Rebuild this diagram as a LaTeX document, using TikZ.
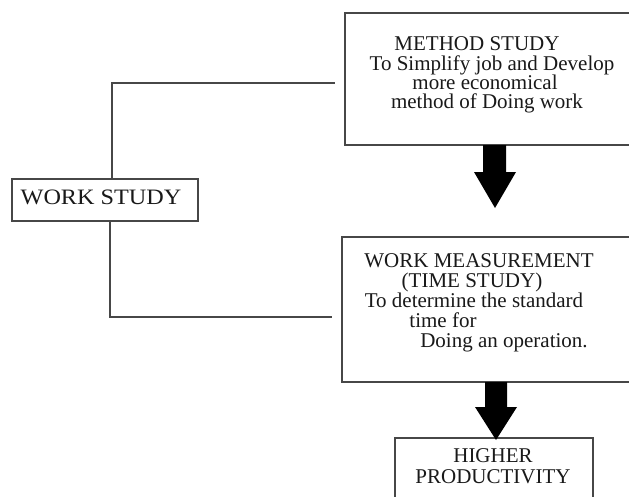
\documentclass[tikz,border=0pt]{standalone}
\usepackage{graphicx}
\usepackage{fontspec}
\setmainfont{Liberation Serif}
\newcommand{\hscl}[2]{\scalebox{#1}[1]{#2}}
\tikzset{
  boxline/.style={draw=black!72, line width=1.3pt, fill=white, rectangle, inner sep=0pt},
  conn/.style={draw=black!72, line width=1.3pt},
  txt/.style={anchor=base, inner sep=0pt, text=black!90, font=\fontsize{21}{21}\selectfont},
  blockarrow/.style={fill=black}
}
\begin{document}
\begin{tikzpicture}[x=1pt,y=-1pt]
\useasboundingbox (0,0) rectangle (629,496);
% boxes
\node[boxline, minimum width=300pt, minimum height=132pt] (ms) at (495,79) {};
\node[boxline, minimum width=300pt, minimum height=145pt] (wm) at (492,309.5) {};
\node[boxline, minimum width=198pt, minimum height=80pt] (hp) at (494,478) {};
\node[boxline, minimum width=186pt, minimum height=42pt] (ws) at (105,200) {};
% texts
\node[txt] (t1) at (477,50) {METHOD STUDY};
\node[txt] (t2) at (492,70) {To Simplify job and Develop};
\node[txt] (t3) at (485,89) {more economical};
\node[txt] (t4) at (487,108) {method of Doing work};
\node[txt] (t5) at (479,267) {WORK MEASUREMENT};
\node[txt] (t6) at (472,287) {(TIME STUDY)};
\node[txt] (t7) at (474,307) {To determine the standard};
\node[txt] (t8) at (443,327) {time for};
\node[txt] (t9) at (504,347) {Doing an operation.};
\node[txt] (t10) at (493,462) {HIGHER};
\node[txt] (t11) at (493,483) {PRODUCTIVITY};
\node[txt, font=\fontsize{22}{22}\selectfont] (t12) at (101,204) {\hscl{1.1}{WORK STUDY}};
% connectors
\coordinate (c1) at (335,83);
\coordinate (c2) at (332,317);
\draw[conn] ([xshift=7pt]ws.north) |- (c1);
\draw[conn] ([xshift=5pt]ws.south) |- (c2);
% block arrows
\fill[blockarrow] (483,145) -- (506,145) -- (506,172) -- (516,172) -- (495,208)
  -- (474,172) -- (483,172) -- cycle;
\fill[blockarrow] (485,382) -- (507,382) -- (507,407) -- (517,407) -- (496,440)
  -- (475,407) -- (485,407) -- cycle;
\end{tikzpicture}
\end{document}
